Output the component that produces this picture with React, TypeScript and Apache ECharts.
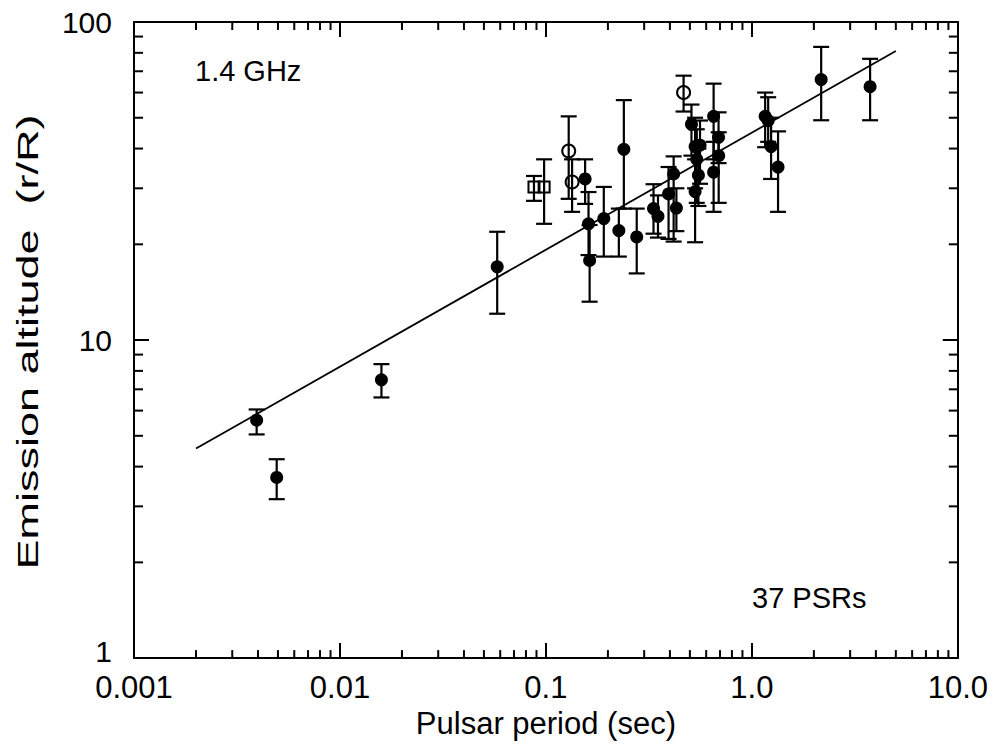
import React, { useEffect, useRef } from "react";
import * as echarts from "echarts";

// Pulsars with filled markers: period (s), emission altitude (r/R) and its error range
const filledPeriod = [
  0.00394, 0.00493, 0.0159, 0.058, 0.155, 0.161, 0.163, 0.191, 0.226, 0.239,
  0.276, 0.333, 0.35, 0.394, 0.417, 0.43, 0.509, 0.53, 0.54, 0.53,
  0.55, 0.56, 0.652, 0.689, 0.652, 0.69, 1.16, 1.2, 1.24, 1.34,
  2.17, 3.75,
];
const filledAltitude = [
  5.6, 3.7, 7.5, 17.0, 32.1, 23.2, 17.8, 24.1, 22.1, 39.8,
  21.1, 25.9, 24.5, 28.8, 33.3, 26.0, 47.7, 40.6, 37.0, 29.3,
  33.0, 41.0, 50.5, 43.4, 33.7, 38.0, 50.5, 49.0, 40.6, 35.0,
  65.9, 62.6,
];
const filledLow = [
  5.05, 3.16, 6.6, 12.1, 26.8, 18.5, 13.2, 18.3, 18.3, 25.9,
  16.2, 21.6, 21.0, 20.8, 20.4, 22.0, 38.0, 30.0, 27.0, 20.3,
  26.4, 31.0, 37.0, 36.0, 25.3, 27.0, 40.4, 42.0, 32.1, 25.3,
  49.1, 49.1,
];
const filledHigh = [
  6.05, 4.22, 8.4, 21.9, 37.0, 29.2, 23.0, 30.3, 25.9, 56.8,
  25.9, 30.9, 28.5, 35.0, 37.8, 30.0, 55.0, 50.0, 46.0, 37.0,
  40.0, 49.0, 64.0, 52.0, 42.0, 45.0, 60.0, 58.0, 50.0, 45.3,
  83.5, 76.6,
];

// Pulsars with open squares
const squarePeriod = [0.0875, 0.098];
const squareAltitude = [30.3, 30.3];
const squareLow = [27.4, 23.2];
const squareHigh = [32.8, 37.0];

// Pulsars with open circles
const circlePeriod = [0.129, 0.134, 0.466];
const circleAltitude = [39.3, 31.4, 60.0];
const circleLow = [27.8, 25.3, 52.3];
const circleHigh = [50.5, 37.0, 67.8];

// Power-law fit drawn across the period range
const fitPeriod = [0.002, 5];
const fitAltitude = [4.56, 81.1];

// Axis ranges and tick labels
const xTickLabels = ["0.001", "0.01", "0.1", "1.0", "10.0"];
const yTickLabels = ["1", "10", "100"];
const xDecades = [0.001, 0.01, 0.1, 1];
const yDecades = [1, 10];
const minorSteps = [2, 3, 4, 5, 6, 7, 8, 9];

const FONT = "'Liberation Sans', Arial, Helvetica, sans-serif";
const INK = "#000";

const xMinorTicks = xDecades.flatMap((d) => minorSteps.map((m) => d * m));
const yMinorTicks = yDecades.flatMap((d) => minorSteps.map((m) => d * m));

const errorBarRender = (params: any, api: any) => {
  const x = api.value(0);
  const lo = api.coord([x, api.value(1)]);
  const hi = api.coord([x, api.value(2)]);
  const hw = 8;
  const style = { stroke: INK, lineWidth: 2.2 };
  return {
    type: "group",
    children: [
      { type: "line", shape: { x1: lo[0], y1: lo[1], x2: hi[0], y2: hi[1] }, style },
      { type: "line", shape: { x1: lo[0] - hw, y1: lo[1], x2: lo[0] + hw, y2: lo[1] }, style },
      { type: "line", shape: { x1: hi[0] - hw, y1: hi[1], x2: hi[0] + hw, y2: hi[1] }, style },
    ],
  };
};

const zip4 = (p: number[], a: number[], l: number[], h: number[]) =>
  p.map((v, i) => [v, l[i], h[i], a[i]]);

export default function App() {
  const ref = useRef<HTMLDivElement>(null);

  useEffect(() => {
    if (!ref.current) return;
    const chart = echarts.init(ref.current, null, { renderer: "svg" });

    const tickStyle = { color: INK, width: 2 };

    const errorData = [
      ...zip4(filledPeriod, filledAltitude, filledLow, filledHigh),
      ...zip4(squarePeriod, squareAltitude, squareLow, squareHigh),
      ...zip4(circlePeriod, circleAltitude, circleLow, circleHigh),
    ];

    chart.setOption({
      animation: false,
      backgroundColor: "#fff",
      grid: { left: 134, right: 31, top: 22, bottom: 82 },
      xAxis: [
        {
          type: "log",
          logBase: 10,
          min: 0.001,
          max: 10,
          position: "bottom",
          name: "Pulsar period (sec)",
          nameLocation: "middle",
          nameGap: 43,
          nameTextStyle: { fontFamily: FONT, fontSize: 31, color: INK },
          axisLine: { show: true, lineStyle: tickStyle },
          axisTick: { show: true, inside: true, length: 15, lineStyle: tickStyle },
          axisLabel: {
            show: true,
            margin: 14,
            fontFamily: FONT,
            fontSize: 31,
            color: INK,
            formatter: (v: number) => xTickLabels[Math.round(Math.log10(v)) + 3] ?? "",
          },
          splitLine: { show: false },
        },
        {
          type: "log",
          logBase: 10,
          min: 0.001,
          max: 10,
          position: "top",
          axisLine: { show: true, lineStyle: tickStyle },
          axisTick: { show: true, inside: true, length: 15, lineStyle: tickStyle },
          axisLabel: { show: false },
          splitLine: { show: false },
        },
      ],
      yAxis: [
        {
          type: "log",
          logBase: 10,
          min: 1,
          max: 100,
          position: "left",
          axisLine: { show: true, lineStyle: tickStyle },
          axisTick: { show: true, inside: true, length: 15, lineStyle: tickStyle },
          axisLabel: {
            show: true,
            margin: 22,
            fontFamily: FONT,
            fontSize: 30,
            color: INK,
            formatter: (v: number) => {
              const i = Math.round(Math.log10(v));
              const t = yTickLabels[i] ?? "";
              // the lowest label sits a little above the corner
              return i === 0 ? `{low|${t}}` : t;
            },
            rich: {
              low: {
                fontFamily: FONT,
                fontSize: 30,
                color: INK,
                padding: [0, 0, 14, 0],
              },
            },
          },
          splitLine: { show: false },
        },
        {
          type: "log",
          logBase: 10,
          min: 1,
          max: 100,
          position: "right",
          axisLine: { show: true, lineStyle: tickStyle },
          axisTick: { show: true, inside: true, length: 15, lineStyle: tickStyle },
          axisLabel: { show: false },
          splitLine: { show: false },
        },
      ],
      graphic: [
        {
          // y-axis title, set in a widely spaced face
          type: "text",
          x: 27,
          y: 342,
          rotation: Math.PI / 2,
          scaleX: 1.5,
          style: {
            text: "Emission altitude  (r/R)",
            fontFamily: FONT,
            fontSize: 30,
            fill: INK,
            align: "center",
            verticalAlign: "middle",
          },
        },
        {
          type: "text",
          left: 195,
          top: 56,
          style: { text: "1.4 GHz", fontFamily: FONT, fontSize: 29, fill: INK },
        },
        {
          type: "text",
          left: 752,
          top: 583,
          style: { text: "37 PSRs", fontFamily: FONT, fontSize: 29, fill: INK },
        },
      ],
      series: [
        // minor ticks on the bottom and top axes
        {
          type: "custom",
          silent: true,
          clip: false,
          data: xMinorTicks.map((v) => [v, 1]),
          renderItem: (params: any, api: any) => {
            const v = api.value(0);
            const b = api.coord([v, 1]);
            const t = api.coord([v, 100]);
            const style = { stroke: INK, lineWidth: 2 };
            return {
              type: "group",
              children: [
                { type: "line", shape: { x1: b[0], y1: b[1], x2: b[0], y2: b[1] - 8 }, style },
                { type: "line", shape: { x1: t[0], y1: t[1], x2: t[0], y2: t[1] + 8 }, style },
              ],
            };
          },
        },
        // minor ticks on the left and right axes
        {
          type: "custom",
          silent: true,
          clip: false,
          data: yMinorTicks.map((v) => [0.001, v]),
          renderItem: (params: any, api: any) => {
            const v = api.value(1);
            const l = api.coord([0.001, v]);
            const r = api.coord([10, v]);
            const style = { stroke: INK, lineWidth: 2 };
            return {
              type: "group",
              children: [
                { type: "line", shape: { x1: l[0], y1: l[1], x2: l[0] + 9, y2: l[1] }, style },
                { type: "line", shape: { x1: r[0], y1: r[1], x2: r[0] - 9, y2: r[1] }, style },
              ],
            };
          },
        },
        {
          type: "line",
          data: fitPeriod.map((p, i) => [p, fitAltitude[i]]),
          showSymbol: false,
          lineStyle: { color: INK, width: 1.8 },
          silent: true,
        },
        {
          type: "custom",
          silent: true,
          data: errorData,
          encode: { x: 0, y: [1, 2] },
          renderItem: errorBarRender,
        },
        {
          type: "scatter",
          symbol: "circle",
          symbolSize: 13,
          itemStyle: { color: INK, opacity: 1 },
          data: filledPeriod.map((p, i) => [p, filledAltitude[i]]),
        },
        {
          type: "scatter",
          symbol: "rect",
          symbolSize: 11,
          itemStyle: { color: "transparent", borderColor: INK, borderWidth: 2, opacity: 1 },
          data: squarePeriod.map((p, i) => [p, squareAltitude[i]]),
        },
        {
          type: "scatter",
          symbol: "circle",
          symbolSize: 13,
          itemStyle: { color: "transparent", borderColor: INK, borderWidth: 2, opacity: 1 },
          data: circlePeriod.map((p, i) => [p, circleAltitude[i]]),
        },
      ],
    });

    return () => chart.dispose();
  }, []);

  return (
    <div
      ref={ref}
      style={{ position: "absolute", left: 0, top: 0, width: 991, height: 744 }}
    />
  );
}
